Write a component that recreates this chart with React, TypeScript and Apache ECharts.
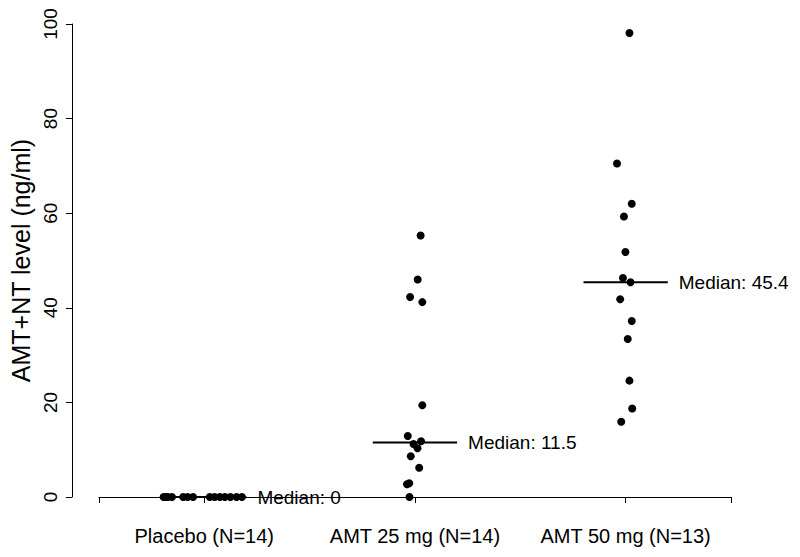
import React, { useEffect, useRef } from "react";
import * as echarts from "echarts";

const groups = ["Placebo (N=14)", "AMT 25 mg (N=14)", "AMT 50 mg (N=13)"];
const yTicks = [0, 20, 40, 60, 80, 100];

const placeboValues = [0, 0, 0, 0, 0, 0, 0, 0, 0, 0, 0, 0, 0, 0];
const placeboJitter = [-0.193, -0.183, -0.173, -0.153, -0.1, -0.079, -0.053, 0.026, 0.049, 0.074, 0.098, 0.124, 0.153, 0.179];

const amt25Values = [55.3, 46.0, 42.3, 41.2, 19.4, 12.9, 11.8, 11.2, 10.3, 8.6, 6.2, 2.7, 2.9, 0];
const amt25Jitter = [0.027, 0.013, -0.023, 0.035, 0.035, -0.034, 0.029, -0.007, 0.012, -0.02, 0.02, -0.038, -0.027, -0.026];

const amt50Values = [98.1, 70.5, 62.0, 59.3, 51.8, 46.3, 45.4, 41.8, 37.2, 33.4, 24.6, 18.7, 15.9];
const amt50Jitter = [0.018, -0.041, 0.029, -0.008, -0.001, -0.013, 0.023, -0.026, 0.029, 0.01, 0.018, 0.031, -0.021];

const medians = [0, 11.5, 45.4];
const medianLabels = ["Median: 0", "Median: 11.5", "Median: 45.4"];

const FONT = "Liberation Sans, Arial, Helvetica, sans-serif";

export default function App() {
  const ref = useRef<HTMLDivElement>(null);
  useEffect(() => {
    document.body.style.margin = "0";
    if (!ref.current) return;
    const chart = echarts.init(ref.current, undefined, { renderer: "svg" });
    const groupValues = [placeboValues, amt25Values, amt50Values];
    const groupJitter = [placeboJitter, amt25Jitter, amt50Jitter];
    const points: number[][] = [];
    groupValues.forEach((vals, gi) => {
      vals.forEach((v, i) => points.push([gi + 1 + groupJitter[gi][i], v]));
    });
    const halfWidth = 0.2;
    const medianSeries = medians.map((m, i) => ({
      type: "line",
      data: [
        [i + 1 - halfWidth, m],
        [i + 1 + halfWidth, m],
      ],
      symbol: "none",
      clip: false,
      silent: true,
      z: 1,
      lineStyle: { color: "#000", width: 2, type: "solid" },
      endLabel: {
        show: true,
        formatter: medianLabels[i],
        distance: 11,
        color: "#000",
        fontSize: 19,
        fontFamily: FONT,
      },
    }));
    chart.setOption({
      animation: false,
      backgroundColor: "#fff",
      textStyle: { fontFamily: FONT },
      grid: { left: 92, right: 69, top: 24, bottom: 60 },
      xAxis: {
        type: "value",
        min: 0.5,
        max: 3.5,
        offset: 18,
        splitLine: { show: false },
        axisLine: { show: true, lineStyle: { color: "#000", width: 1 } },
        axisTick: { show: true, length: 6, customValues: [0.5, 1, 2, 3, 3.5], lineStyle: { color: "#000" } },
        axisLabel: {
          customValues: [1, 2, 3],
          formatter: (v: number) => groups[Math.round(v) - 1] ?? "",
          color: "#000",
          fontSize: 20,
          fontFamily: FONT,
          margin: 11,
        },
      },
      yAxis: {
        type: "value",
        min: 0,
        max: 100,
        interval: 20,
        offset: 27,
        name: "AMT+NT level (ng/ml)",
        nameLocation: "middle",
        nameRotate: 90,
        nameGap: 37,
        nameTextStyle: { color: "#000", fontSize: 25, fontFamily: FONT },
        splitLine: { show: false },
        axisLine: { show: true, lineStyle: { color: "#000", width: 1 } },
        axisTick: { show: true, length: 6, lineStyle: { color: "#000" } },
        axisLabel: { rotate: 90, color: "#000", fontSize: 19, fontFamily: FONT, margin: 12 },
      },
      series: [
        ...medianSeries,
        {
          type: "scatter",
          data: points,
          symbol: "circle",
          symbolSize: 8,
          clip: false,
          z: 2,
          itemStyle: { color: "#000", opacity: 1 },
        },
      ],
    });
    return () => chart.dispose();
  }, []);
  return <div ref={ref} style={{ width: 800, height: 557 }} />;
}
